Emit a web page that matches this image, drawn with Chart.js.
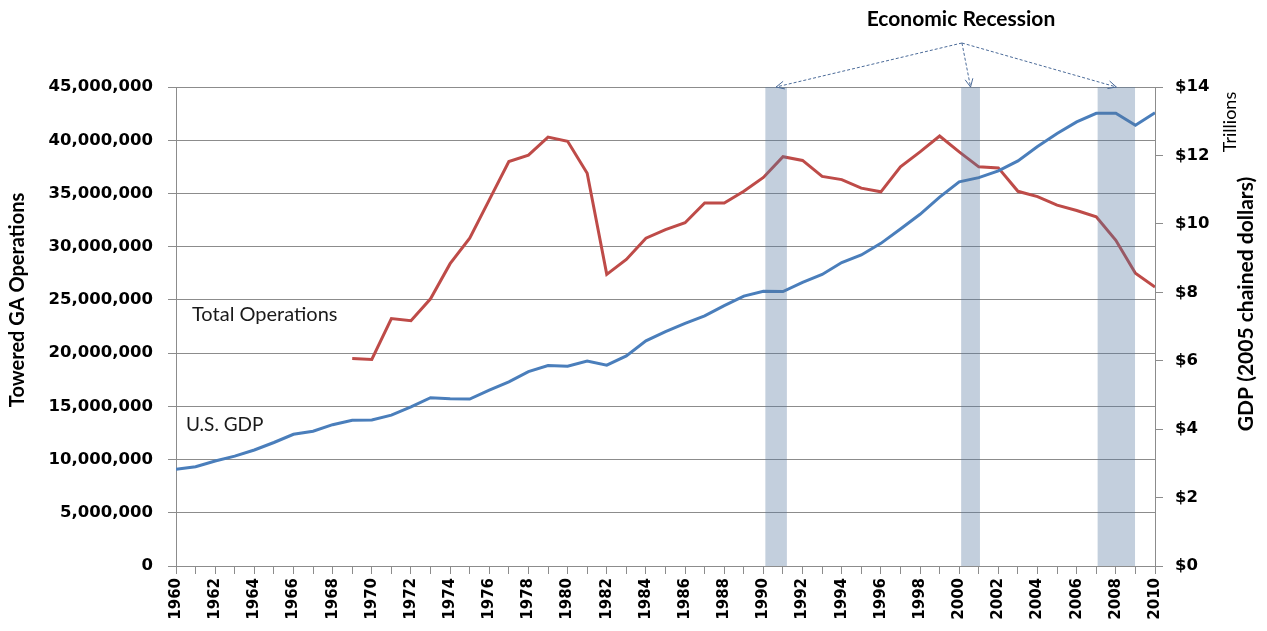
<!DOCTYPE html>
<html>
<head>
<title>Towered GA Operations and U.S. GDP</title>
<script src="https://cdn.jsdelivr.net/npm/chart.js"></script>
<style>
  body { margin: 0; background: #fff; }
  #wrap { width: 1267px; height: 631px; position: relative; }
</style>
</head>
<body>
<div id="wrap"><canvas id="chart"></canvas></div>
<script>
const years = [1960, 1961, 1962, 1963, 1964, 1965, 1966, 1967, 1968, 1969,
               1970, 1971, 1972, 1973, 1974, 1975, 1976, 1977, 1978, 1979,
               1980, 1981, 1982, 1983, 1984, 1985, 1986, 1987, 1988, 1989,
               1990, 1991, 1992, 1993, 1994, 1995, 1996, 1997, 1998, 1999,
               2000, 2001, 2002, 2003, 2004, 2005, 2006, 2007, 2008, 2009, 2010];

// real GDP, trillions of 2005 chained dollars (right axis)
const gdpTrillions = [2.83, 2.90, 3.07, 3.21, 3.39, 3.61, 3.85, 3.94, 4.13, 4.26,
                      4.27, 4.41, 4.65, 4.92, 4.89, 4.88, 5.14, 5.38, 5.68, 5.86,
                      5.84, 5.99, 5.87, 6.14, 6.58, 6.85, 7.09, 7.31, 7.61, 7.89,
                      8.03, 8.02, 8.29, 8.52, 8.87, 9.09, 9.43, 9.85, 10.28, 10.78,
                      11.23, 11.35, 11.55, 11.84, 12.26, 12.64, 12.98, 13.23, 13.23, 12.88, 13.25];

// towered GA operations (left axis), no counts before 1969
const toweredOps = [null, null, null, null, null, null, null, null, null, 19500000,
                    19400000, 23250000, 23050000, 25100000, 28400000, 30800000, 34400000, 38000000, 38600000, 40300000,
                    39900000, 36900000, 27400000, 28800000, 30800000, 31600000, 32250000, 34100000, 34100000, 35200000,
                    36500000, 38450000, 38100000, 36600000, 36300000, 35500000, 35150000, 37500000, 38900000, 40400000,
                    38900000, 37500000, 37400000, 35200000, 34700000, 33900000, 33400000, 32800000, 30600000, 27500000, 26200000];

// recession periods, shaded
const recessionStart = [1990.1, 2000.1, 2007.07];
const recessionEnd = [1991.2, 2001.06, 2008.98];

const gridColor = '#8c8c8c';
const tickFont = { family: 'DejaVu Sans', size: 16.5, weight: 'bold' };

const recessionBands = {
  id: 'recessionBands',
  afterDatasetsDraw(chart) {
    const { ctx, chartArea, scales: { x } } = chart;
    ctx.save();
    ctx.fillStyle = 'rgba(84, 118, 158, 0.35)';
    recessionStart.forEach((s, i) => {
      const x0 = x.getPixelForValue(s);
      const x1 = x.getPixelForValue(recessionEnd[i]);
      ctx.fillRect(x0, chartArea.top, x1 - x0, chartArea.bottom - chartArea.top);
    });
    ctx.restore();
  }
};

function rotatedText(ctx, text, cx, cy, font) {
  ctx.save();
  ctx.translate(cx, cy);
  ctx.rotate(-Math.PI / 2);
  ctx.font = font;
  ctx.textAlign = 'center';
  ctx.textBaseline = 'middle';
  ctx.fillText(text, 0, 0);
  ctx.restore();
}

const annotations = {
  id: 'annotations',
  afterDraw(chart) {
    const { ctx, chartArea, scales: { x } } = chart;
    ctx.save();
    ctx.fillStyle = '#000';

    // axis titles, both read bottom to top
    rotatedText(ctx, 'Towered GA Operations', 18, 300, 'bold 20px Lato');
    rotatedText(ctx, 'GDP (2005 chained dollars)', 1246, 304, 'bold 21px Lato');
    rotatedText(ctx, 'Trillions', 1230, 122, '18px Lato');

    // series labels
    ctx.font = '20px Lato';
    ctx.fillStyle = '#1a1a1a';
    ctx.textAlign = 'left';
    ctx.textBaseline = 'middle';
    ctx.fillText('Total Operations', 192, 315);
    ctx.font = '19px Lato';
    ctx.fillText('U.S. GDP', 186, 425);

    // recession callout
    ctx.fillStyle = '#000';
    ctx.font = 'bold 21px Lato';
    ctx.textAlign = 'center';
    ctx.fillText('Economic Recession', 961, 19);

    const ox = x.getPixelForValue(2000.14);
    const oy = 43;
    ctx.strokeStyle = '#4a6a98';
    ctx.lineWidth = 1;
    recessionStart.forEach((s, i) => {
      const tx = x.getPixelForValue((s + recessionEnd[i]) / 2);
      const ty = chartArea.top;
      ctx.setLineDash([3, 2]);
      ctx.beginPath();
      ctx.moveTo(ox, oy);
      ctx.lineTo(tx, ty);
      ctx.stroke();
      // open arrow head
      const a = Math.atan2(ty - oy, tx - ox);
      const len = 9;
      ctx.setLineDash([]);
      ctx.beginPath();
      ctx.moveTo(tx - len * Math.cos(a - 0.45), ty - len * Math.sin(a - 0.45));
      ctx.lineTo(tx, ty);
      ctx.lineTo(tx - len * Math.cos(a + 0.45), ty - len * Math.sin(a + 0.45));
      ctx.stroke();
    });
    ctx.restore();
  }
};

new Chart(document.getElementById('chart'), {
  type: 'line',
  data: {
    datasets: [
      {
        label: 'U.S. GDP',
        data: years.map((yr, i) => ({ x: yr, y: gdpTrillions[i] })),
        yAxisID: 'yGdp',
        borderColor: '#4A7EBB',
        borderWidth: 3,
        pointRadius: 0,
        tension: 0
      },
      {
        label: 'Total Operations',
        data: years.map((yr, i) => ({ x: yr, y: toweredOps[i] })),
        yAxisID: 'yOps',
        borderColor: '#BE4B48',
        borderWidth: 3,
        pointRadius: 0,
        tension: 0,
        spanGaps: false
      }
    ]
  },
  options: {
    responsive: true,
    maintainAspectRatio: false,
    animation: false,
    layout: { padding: { top: 87, left: 0, right: 0, bottom: 0 } },
    plugins: {
      legend: { display: false },
      tooltip: { enabled: false }
    },
    scales: {
      x: {
        type: 'linear',
        min: 1960,
        max: 2010,
        afterFit(scale) { scale.height = 65; },
        border: { color: gridColor },
        grid: { drawOnChartArea: false, color: gridColor, tickLength: 8 },
        ticks: {
          stepSize: 1,
          autoSkip: false,
          minRotation: 90,
          maxRotation: 90,
          padding: 4,
          color: '#000',
          font: { family: 'DejaVu Sans', size: 15, weight: 'bold' },
          callback: v => (v % 2 === 0 ? String(v) : '')
        }
      },
      yOps: {
        type: 'linear',
        position: 'left',
        min: 0,
        max: 45000000,
        afterFit(scale) { scale.width = 176; },
        border: { color: gridColor },
        grid: { color: gridColor, tickLength: 8 },
        ticks: {
          stepSize: 5000000,
          padding: 15,
          color: '#000',
          font: tickFont,
          callback: v => v.toLocaleString('en-US')
        }
      },
      yGdp: {
        type: 'linear',
        position: 'right',
        min: 0,
        max: 14,
        afterFit(scale) { scale.width = 112; },
        border: { color: gridColor },
        grid: { drawOnChartArea: false, color: gridColor, tickLength: 8 },
        ticks: {
          stepSize: 2,
          padding: 12,
          color: '#000',
          font: tickFont,
          callback: v => '$' + v
        }
      }
    }
  },
  plugins: [recessionBands, annotations]
});
</script>
</body>
</html>
